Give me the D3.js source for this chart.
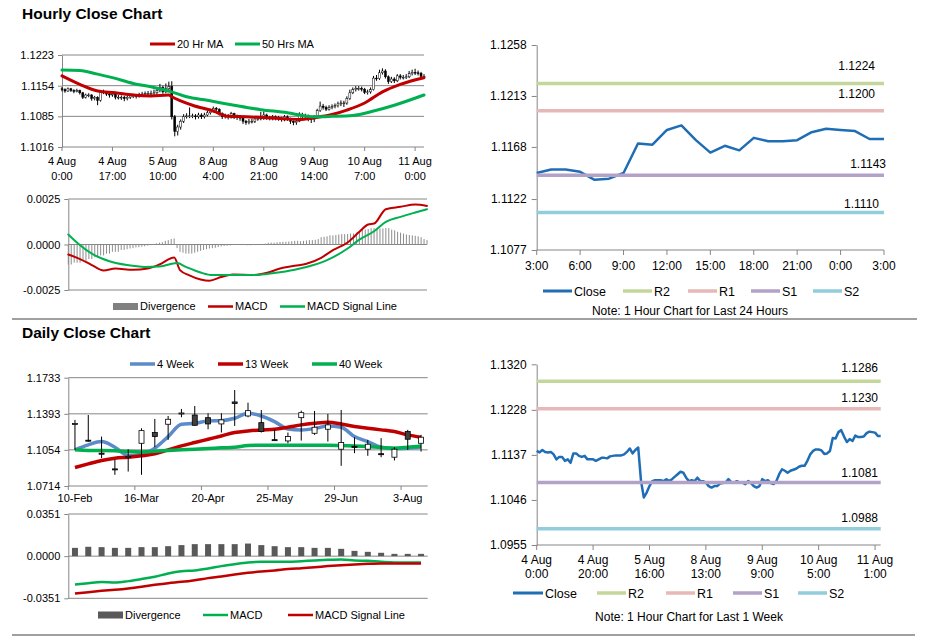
<!DOCTYPE html>
<html><head><meta charset="utf-8">
<script src="https://cdn.jsdelivr.net/npm/d3@7"></script>
<style>
body{margin:0;background:#fff}
svg{display:block}
text{font-family:"Liberation Sans",Arial,sans-serif;fill:#000}
</style>
</head><body>
<svg id="c" width="928" height="638"></svg>
<script>
// ================= DATA =================
// Hourly (last 1 week, 123 hourly bars, 4 Aug 0:00 .. 11 Aug 3:00)
const hourlyTickIdx  = [0,17,34,51,68,85,102,119];
const hourlyTickDay  = ["4 Aug","4 Aug","5 Aug","8 Aug","8 Aug","9 Aug","10 Aug","11 Aug"];
const hourlyTickTime = ["0:00","17:00","10:00","4:00","21:00","14:00","7:00","0:00"];
const weekTickIdx  = [0,20,40,60,80,100,120];
const weekTickDay  = ["4 Aug","4 Aug","5 Aug","8 Aug","9 Aug","10 Aug","11 Aug"];
const weekTickTime = ["0:00","20:00","16:00","13:00","9:00","5:00","1:00"];
const dayTickLabels = ["3:00","6:00","9:00","12:00","15:00","18:00","21:00","0:00","3:00"];

const hourlyClose = [1.1145,1.1142,1.1147,1.1143,1.1142,1.1143,1.1138,1.1128,1.1133,1.1133,
1.1125,1.1128,1.1121,1.1140,1.1140,1.1135,1.1133,1.1135,1.1128,1.1128,
1.1128,1.1125,1.1128,1.1131,1.1131,1.1130,1.1134,1.1135,1.1136,1.1136,
1.1136,1.1138,1.1143,1.1150,1.1140,1.1147,1.1152,1.1084,1.1051,1.1061,
1.1074,1.1084,1.1086,1.1086,1.1086,1.1084,1.1088,1.1084,1.1088,1.1093,
1.1098,1.1103,1.1101,1.1091,1.1084,1.1086,1.1084,1.1091,1.1084,1.1084,
1.1081,1.1074,1.1071,1.1074,1.1074,1.1079,1.1080,1.1081,1.1088,1.1082,
1.1081,1.1084,1.1081,1.1081,1.1078,1.1084,1.1080,1.1074,1.1071,1.1074,
1.1088,1.1084,1.1086,1.1080,1.1078,1.1084,1.1098,1.1108,1.1105,1.1101,
1.1105,1.1107,1.1109,1.1113,1.1115,1.1115,1.1125,1.1138,1.1145,1.1148,
1.1148,1.1146,1.1139,1.1140,1.1145,1.1171,1.1170,1.1183,1.1187,1.1174,
1.1163,1.1169,1.1165,1.1176,1.1173,1.1173,1.1174,1.1181,1.1184,1.1183,
1.1182,1.1175,1.1175];
const hourlyOpen = [1.1147,1.1145,1.1142,1.1147,1.1143,1.1142,1.1143,1.1138,1.1128,1.1133,
1.1133,1.1125,1.1128,1.1121,1.1140,1.1140,1.1135,1.1133,1.1135,1.1128,
1.1128,1.1128,1.1125,1.1128,1.1131,1.1131,1.1130,1.1134,1.1135,1.1136,
1.1136,1.1136,1.1138,1.1143,1.1150,1.1140,1.1147,1.1152,1.1084,1.1051,
1.1061,1.1074,1.1084,1.1086,1.1086,1.1086,1.1084,1.1088,1.1084,1.1088,
1.1093,1.1098,1.1103,1.1101,1.1091,1.1084,1.1086,1.1084,1.1091,1.1084,
1.1084,1.1081,1.1074,1.1071,1.1074,1.1074,1.1079,1.1080,1.1081,1.1088,
1.1082,1.1081,1.1084,1.1081,1.1081,1.1078,1.1084,1.1080,1.1074,1.1071,
1.1074,1.1088,1.1084,1.1086,1.1080,1.1078,1.1084,1.1098,1.1108,1.1105,
1.1101,1.1105,1.1107,1.1109,1.1113,1.1115,1.1115,1.1125,1.1138,1.1145,
1.1148,1.1148,1.1146,1.1139,1.1140,1.1145,1.1171,1.1170,1.1183,1.1187,
1.1174,1.1163,1.1169,1.1165,1.1176,1.1173,1.1173,1.1174,1.1181,1.1184,
1.1183,1.1182,1.1175];
const hourlyHigh = [1.1151,1.1148,1.1150,1.1149,1.1146,1.1147,1.1145,1.1140,1.1136,1.1137,
1.1135,1.1131,1.1130,1.1144,1.1145,1.1142,1.1138,1.1140,1.1137,1.1133,
1.1132,1.1131,1.1132,1.1135,1.1136,1.1134,1.1138,1.1140,1.1141,1.1142,
1.1143,1.1145,1.1150,1.1158,1.1154,1.1159,1.1163,1.1164,1.1088,1.1066,
1.1078,1.1090,1.1092,1.1105,1.1091,1.1090,1.1093,1.1092,1.1093,1.1097,
1.1102,1.1107,1.1106,1.1103,1.1094,1.1091,1.1090,1.1095,1.1093,1.1089,
1.1087,1.1083,1.1077,1.1079,1.1080,1.1083,1.1085,1.1095,1.1096,1.1091,
1.1086,1.1088,1.1087,1.1086,1.1084,1.1088,1.1087,1.1082,1.1076,1.1080,
1.1094,1.1093,1.1091,1.1089,1.1083,1.1088,1.1102,1.1118,1.1113,1.1109,
1.1110,1.1112,1.1114,1.1118,1.1121,1.1120,1.1130,1.1145,1.1150,1.1153,
1.1153,1.1152,1.1149,1.1145,1.1150,1.1176,1.1178,1.1190,1.1193,1.1191,
1.1177,1.1174,1.1173,1.1180,1.1180,1.1178,1.1180,1.1187,1.1190,1.1192,
1.1188,1.1185,1.1180];
const hourlyLow = [1.1141,1.1138,1.1140,1.1140,1.1137,1.1139,1.1134,1.1124,1.1125,1.1128,
1.1120,1.1121,1.1110,1.1118,1.1135,1.1131,1.1127,1.1129,1.1123,1.1123,
1.1122,1.1119,1.1121,1.1124,1.1126,1.1125,1.1127,1.1130,1.1131,1.1131,
1.1130,1.1132,1.1134,1.1139,1.1136,1.1137,1.1142,1.1078,1.1040,1.1042,
1.1055,1.1070,1.1080,1.1081,1.1081,1.1078,1.1080,1.1079,1.1080,1.1085,
1.1089,1.1094,1.1096,1.1087,1.1079,1.1080,1.1078,1.1080,1.1079,1.1077,
1.1075,1.1068,1.1066,1.1067,1.1069,1.1070,1.1075,1.1076,1.1077,1.1077,
1.1076,1.1076,1.1076,1.1075,1.1073,1.1074,1.1075,1.1068,1.1065,1.1066,
1.1072,1.1079,1.1080,1.1074,1.1070,1.1072,1.1080,1.1095,1.1100,1.1097,
1.1098,1.1101,1.1103,1.1105,1.1108,1.1106,1.1111,1.1122,1.1135,1.1141,
1.1143,1.1141,1.1135,1.1134,1.1136,1.1143,1.1165,1.1167,1.1179,1.1170,
1.1158,1.1160,1.1160,1.1162,1.1168,1.1168,1.1169,1.1171,1.1177,1.1178,
1.1177,1.1171,1.1170];

// Moving averages (bar index, value)
const ma20Idx = [0,6,12,18,24,30,36,37,40,44,51,56,62,69,76,80,85,91,96,102,108,114,122];
const ma20Val = [1.1176,1.1157,1.1142,1.1138,1.1133,1.1131,1.1133,1.1129,1.1120,1.1110,1.1097,1.1085,1.1084,1.1082,1.1079,1.1078,1.1082,1.1089,1.1099,1.1115,1.1140,1.1157,1.1172];
const ma50Idx = [0,6,12,17,24,31,37,42,49,58,67,76,82,85,91,98,105,112,122];
const ma50Val = [1.1189,1.1188,1.1180,1.1172,1.1159,1.1150,1.1140,1.1129,1.1121,1.1110,1.1100,1.1093,1.1086,1.1084,1.1085,1.1087,1.1097,1.1110,1.1133];

// Hourly MACD
const macdHIdx = [0,4,8,12,16,22,27,31,36,38,41,45,48,52,56,63,68,72,77,81,86,90,95,99,102,104,108,113,118,122];
const macdHVal = [-0.00055,-0.0008,-0.00113,-0.00143,-0.00132,-0.00139,-0.00132,-0.0011,-0.00071,-0.00141,-0.00168,-0.00192,-0.00199,-0.00179,-0.00165,-0.00168,-0.00154,-0.00132,-0.00117,-0.00106,-0.00073,-0.00031,0.00011,0.0007,0.0011,0.00115,0.00194,0.00207,0.0022,0.00212];
const signalHIdx = [0,4,8,14,20,26,31,37,40,45,49,56,63,70,77,81,88,95,99,104,108,113,118,122];
const signalHVal = [0.00055,-0.00004,-0.0005,-0.00092,-0.00113,-0.00123,-0.00121,-0.00102,-0.00123,-0.00154,-0.00168,-0.00168,-0.00168,-0.00157,-0.00139,-0.00124,-0.00086,-0.00022,0.00027,0.00073,0.00124,0.00152,0.00176,0.00194];
const divergenceH = [-0.0011,-0.0011,-0.0010,-0.0010,-0.0010,-0.0009,-0.0009,-0.0008,-0.0008,-0.0007,
-0.0007,-0.0006,-0.0006,-0.0005,-0.0005,-0.0004,-0.0004,-0.0004,-0.0003,-0.0003,
-0.00026,-0.00022,-0.0002,-0.00016,-0.00015,-0.00012,-0.0001,-0.00006,-0.00003,0.00002,
0.00006,0.0001,0.00012,0.0002,0.00024,0.0003,0.00033,-0.0002,-0.0004,-0.00045,
-0.0005,-0.0005,-0.0005,-0.00045,-0.0004,-0.00035,-0.0003,-0.00026,-0.00022,-0.0002,
-0.00018,-0.00014,-0.0001,-0.00008,-0.00007,-0.00005,-0.00003,-0.00002,0,-0.00002,
-0.00003,-0.00004,-0.00004,-0.00003,-0.00002,0,0.00003,0.00005,0.0001,0.0001,
0.0001,0.00012,0.00014,0.00015,0.00015,0.00016,0.00018,0.0002,0.0002,0.00018,
0.0002,0.00022,0.00024,0.00024,0.00026,0.0003,0.0004,0.00042,0.00045,0.0005,
0.0005,0.00052,0.00055,0.00057,0.00057,0.00058,0.0006,0.0006,0.00065,0.0007,
0.0008,0.00082,0.00085,0.0009,0.0009,0.0009,0.00088,0.00088,0.0009,0.0009,
0.00082,0.00078,0.0007,0.00065,0.0006,0.00055,0.00052,0.0005,0.00048,0.00045,
0.0004,0.0003,0.00024];

// Pivot levels
const levelNames = ["R2","R1","S1","S2"];
const levels24h  = [1.1224,1.1200,1.1143,1.1110];
const levelsWeek = [1.1286,1.1230,1.1081,1.0988];
const last24Start = 98; // 10 Aug 3:00

// Y tick labels
const hourlyYTicks = ["1.1016","1.1085","1.1154","1.1223"];
const macdHYTicks  = ["-0.0025","0.0000","0.0025"];
const day24YTicks  = ["1.1077","1.1122","1.1168","1.1213","1.1258"];
const weekYTicks   = ["1.0955","1.1046","1.1137","1.1228","1.1320"];
const dailyYTicks  = ["1.0714","1.1054","1.1393","1.1733"];
const macdDYTicks  = ["-0.0351","0.0000","0.0351"];

// Daily (weekly bars) 10-Feb .. 10-Aug
const dailyDates = ["10-Feb","17-Feb","24-Feb","2-Mar","9-Mar","16-Mar","23-Mar","30-Mar","6-Apr","13-Apr",
"20-Apr","27-Apr","4-May","11-May","18-May","25-May","1-Jun","8-Jun","15-Jun","22-Jun",
"29-Jun","6-Jul","13-Jul","20-Jul","27-Jul","3-Aug","10-Aug"];
const dailyLabelIdx = [0,5,10,15,20,25];
const dailyOpen  = [1.1298,1.1145,1.1023,1.0875,1.0990,1.1116,1.1217,1.1295,1.1397,1.1382,
1.1357,1.1298,1.1505,1.1373,1.1310,1.1150,1.1138,1.1357,1.1210,1.1248,
1.1060,1.1087,1.1060,1.1018,1.0985,1.1226,1.1116];
const dailyClose = [1.1302,1.1138,1.1013,1.0868,1.0992,1.1235,1.1179,1.1342,1.1401,1.1285,
1.1298,1.1336,1.1490,1.1423,1.1226,1.1145,1.1179,1.1404,1.1267,1.1289,
1.1123,1.1083,1.1107,1.1014,1.1060,1.1154,1.1173];
const dailyHigh  = [1.1336,1.1382,1.1179,1.0960,1.1060,1.1257,1.1345,1.1373,1.1439,1.1467,
1.1398,1.1398,1.1617,1.1498,1.1429,1.1248,1.1217,1.1423,1.1420,1.1392,
1.1429,1.1173,1.1148,1.1164,1.1079,1.1242,1.1195];
const dailyLow   = [1.1054,1.1130,1.0976,1.0819,1.0850,1.0819,1.1079,1.1148,1.1361,1.1280,
1.1248,1.1217,1.1279,1.1361,1.1217,1.1141,1.1116,1.1141,1.1195,1.1132,
1.0904,1.1023,1.0998,1.0985,1.0954,1.1054,1.1038];
const ma4w  = [1.1054,1.1101,1.1132,1.1079,1.1001,1.1013,1.1070,1.1179,1.1295,1.1304,
1.1326,1.1329,1.1351,1.1398,1.1373,1.1320,1.1251,1.1242,1.1254,1.1279,
1.1267,1.1179,1.1132,1.1079,1.1066,1.1070,1.1082];
const ma13w = [1.0888,1.0922,1.0954,1.0976,1.0985,1.0998,1.1016,1.1054,1.1091,1.1123,
1.1154,1.1185,1.1217,1.1232,1.1242,1.1248,1.1267,1.1289,1.1304,1.1314,
1.1298,1.1273,1.1257,1.1242,1.1226,1.1195,1.1173];
const ma40w = [1.1054,1.1048,1.1048,1.1045,1.1038,1.1035,1.1041,1.1048,1.1054,1.1060,
1.1066,1.1073,1.1079,1.1095,1.1098,1.1098,1.1098,1.1098,1.1098,1.1098,
1.1095,1.1091,1.1085,1.1076,1.1070,1.1079,1.1091];
const divergenceD = [0.0069,0.0078,0.0075,0.0069,0.0069,0.0075,0.0075,0.0083,0.0092,0.0100,
0.0100,0.0100,0.0100,0.0105,0.0092,0.0083,0.0075,0.0075,0.0069,0.0069,
0.0061,0.0044,0.0036,0.0028,0.0019,0.0019,0.0019];
const macdD = [-0.0236,-0.0225,-0.0216,-0.0219,-0.0208,-0.0191,-0.0172,-0.0144,-0.0125,-0.0119,
-0.0103,-0.0083,-0.0067,-0.0053,-0.0047,-0.0047,-0.0047,-0.0042,-0.0036,-0.0031,
-0.0028,-0.0036,-0.0039,-0.0047,-0.0053,-0.0053,-0.0053];
const signalD = [-0.0311,-0.0300,-0.0289,-0.0280,-0.0269,-0.0255,-0.0239,-0.0225,-0.0214,-0.0200,
-0.0183,-0.0169,-0.0153,-0.0139,-0.0128,-0.0119,-0.0108,-0.0100,-0.0092,-0.0083,
-0.0075,-0.0069,-0.0064,-0.0061,-0.0061,-0.0061,-0.0061];

// ================= DRAWING =================
const svg = d3.select("#c");
const AX = "#868686";
const RED = "#c00000", GREEN = "#00b050", BLUE4 = "#5b8bc8", CLOSEBLUE = "#1f6db5";
const levelColors = ["#c4d79b","#e6b8b7","#b3a2c7","#92cddc"];

function txt(x, y, s, size, anchor, weight){
  return svg.append("text").attr("x",x).attr("y",y).attr("font-size",size)
    .attr("text-anchor",anchor||"start").attr("font-weight",weight||"normal").text(s);
}
function hline(x0,x1,y,color,w){
  svg.append("line").attr("x1",x0).attr("x2",x1).attr("y1",y).attr("y2",y)
    .attr("stroke",color).attr("stroke-width",w||1);
}
function leftAxis(x0, y, labels, size, tick, pad){
  const vals = labels.map(Number);
  const ax = d3.axisLeft(y).tickValues(vals).tickFormat((d,i)=>labels[i])
    .tickSize(tick).tickSizeOuter(0).tickPadding(pad);
  const g = svg.append("g").attr("transform",`translate(${x0},0)`).call(ax);
  g.select(".domain").attr("stroke",AX);
  g.selectAll(".tick line").attr("stroke",AX);
  g.selectAll(".tick text").attr("font-size",size).attr("font-family",'"Liberation Sans",Arial,sans-serif').attr("fill","#000");
  return vals;
}
function grid(vals, y, x0, x1){ vals.forEach(v=>hline(x0,x1,y(v),AX,1)); }
function legendLine(x, y, color, w, label, size, len){
  svg.append("line").attr("x1",x).attr("x2",x+(len||25)).attr("y1",y).attr("y2",y)
    .attr("stroke",color).attr("stroke-width",w);
  txt(x+(len||25)+2, y+size*0.36, label, size);
}
function legendRect(x, y, color, label, size){
  svg.append("rect").attr("x",x).attr("y",y-3.5).attr("width",25).attr("height",7).attr("fill",color);
  txt(x+27, y+size*0.36, label, size);
}
function pathIdx(xs, ys, x, y, color, w, curve){
  const pts = xs.map((d,i)=>[x(d), y(ys[i])]);
  svg.append("path").attr("d", d3.line().curve(curve||d3.curveMonotoneX)(pts))
    .attr("fill","none").attr("stroke",color).attr("stroke-width",w)
    .attr("stroke-linejoin","round").attr("stroke-linecap","round");
}

// ---- Titles ----
txt(22, 19, "Hourly Close Chart", 15.5, "start", "bold");
txt(22, 338, "Daily Close Chart", 15.5, "start", "bold");

// ---- Separators ----
hline(12, 917, 319, "#808080", 1.5);
hline(12, 915, 635, "#808080", 1.5);

// ================= Panel 1: hourly candles =================
{
  const N = hourlyClose.length;
  const x = d3.scaleLinear().domain([0, N-1]).range([62, 424]);
  const y = d3.scaleLinear().domain([1.1016, 1.1223]).range([147, 55]);
  const vals = hourlyYTicks.map(Number);
  grid(vals.slice(1), y, 62, 424);
  leftAxis(62, y, hourlyYTicks, 11, 4, 4);
  hline(62, 424, 147, AX, 1);
  hourlyTickIdx.forEach((t,i)=>{
    const xx = x(t);
    svg.append("line").attr("x1",xx).attr("x2",xx).attr("y1",147).attr("y2",151).attr("stroke",AX);
    txt(xx, 165, hourlyTickDay[i], 11, "middle");
    txt(xx, 180, hourlyTickTime[i], 11, "middle");
  });
  const g = svg.append("g");
  hourlyClose.forEach((c,i)=>{
    const o = hourlyOpen[i], xx = x(i);
    g.append("line").attr("x1",xx).attr("x2",xx).attr("y1",y(hourlyHigh[i])).attr("y2",y(hourlyLow[i]))
      .attr("stroke","#000").attr("stroke-width",1);
    const top = y(Math.max(o,c)), bot = y(Math.min(o,c));
    g.append("rect").attr("x",xx-1).attr("y",top).attr("width",2).attr("height",Math.max(bot-top,0.8))
      .attr("fill", c>=o ? "#fff" : "#000").attr("stroke","#000").attr("stroke-width",0.5);
  });
  pathIdx(ma20Idx, ma20Val, x, y, RED, 3);
  pathIdx(ma50Idx, ma50Val, x, y, GREEN, 3);
  legendLine(150, 44, RED, 3, "20 Hr MA", 11);
  legendLine(235, 44, GREEN, 3, "50 Hrs MA", 11);
}

// ================= Panel 2: hourly MACD =================
{
  const N = divergenceH.length;
  const x = d3.scaleLinear().domain([0, N-1]).range([68.3, 427]);
  const y = d3.scaleLinear().domain([-0.0025, 0.0025]).range([290, 199]);
  grid([-0.0025, 0, 0.0025], y, 68.3, 427);
  leftAxis(68.3, y, macdHYTicks, 11, 4, 4);
  divergenceH.forEach((d,i)=>{
    svg.append("line").attr("x1",x(i)).attr("x2",x(i)).attr("y1",y(0)).attr("y2",y(d))
      .attr("stroke","#8c8c8c").attr("stroke-width",1);
  });
  pathIdx(macdHIdx, macdHVal, x, y, RED, 2);
  pathIdx(signalHIdx, signalHVal, x, y, GREEN, 2);
  legendRect(113, 306.5, "#808080", "Divergence", 11);
  legendLine(208, 306.5, RED, 2.5, "MACD", 11);
  legendLine(280, 306.5, GREEN, 2.5, "MACD Signal Line", 11);
}

// ================= Panel 3: last 24 hours =================
{
  const data = hourlyClose.slice(last24Start);
  const N = data.length;
  const x = d3.scaleLinear().domain([0, N-1]).range([536.7, 884]);
  const y = d3.scaleLinear().domain([1.1077, 1.1258]).range([250, 45]);
  leftAxis(536.7, y, day24YTicks, 12, 5, 5);
  hline(536.7, 884, 250, AX, 1);
  dayTickLabels.forEach((l,i)=>{
    const xx = x(i*3);
    svg.append("line").attr("x1",xx).attr("x2",xx).attr("y1",250).attr("y2",255).attr("stroke",AX);
    txt(xx, 270, l, 12, "middle");
  });
  svg.append("path").attr("d", d3.line().x((d,i)=>x(i)).y(d=>y(d))(data))
    .attr("fill","none").attr("stroke",CLOSEBLUE).attr("stroke-width",2.5).attr("stroke-linejoin","round");
  const lblEnd = [875, 875, 886, 879], lblGap = [14, 13, 7, 5];
  levels24h.forEach((v,i)=>{
    hline(x(0), x(N-1), y(v), levelColors[i], 3.5);
    txt(lblEnd[i], y(v)-lblGap[i], v.toFixed(4), 12, "end");
  });
  legendLine(543, 291, CLOSEBLUE, 3, "Close", 12.5, 29);
  const lx = [623, 688, 751, 813];
  levelNames.forEach((n,i)=>legendLine(lx[i], 291, levelColors[i], 3.5, n, 12.5, 29));
  txt(690, 315, "Note: 1 Hour Chart for Last 24 Hours", 12, "middle");
}

// ================= Panel 4: daily candles =================
{
  const N = dailyClose.length;
  const xb = d3.scaleBand().domain(d3.range(N)).range([68.3, 427.7]);
  const bw = xb.bandwidth();
  const xc = i => xb(i) + bw/2;
  const y = d3.scaleLinear().domain([1.0714, 1.1733]).range([486, 377.7]);
  const vals = dailyYTicks.map(Number);
  grid(vals.slice(1), y, 68.3, 427.7);
  leftAxis(68.3, y, dailyYTicks, 11, 4, 4);
  hline(68.3, 427.7, 486, AX, 1);
  for (let k=0; k<=N; k+=5) {
    const xx = xb(k) !== undefined ? xb(k) : 427.7;
    svg.append("line").attr("x1",xx).attr("x2",xx).attr("y1",486).attr("y2",490).attr("stroke",AX);
  }
  dailyLabelIdx.forEach(i=>txt(xc(i), 502, dailyDates[i], 11, "middle"));
  const ln = (arr,color,w)=>svg.append("path")
    .attr("d", d3.line().curve(d3.curveMonotoneX).x((d,i)=>xc(i)).y(d=>y(d))(arr))
    .attr("fill","none").attr("stroke",color).attr("stroke-width",w).attr("stroke-linejoin","round");
  ln(ma4w, BLUE4, 3.5);
  ln(ma13w, RED, 3.5);
  ln(ma40w, GREEN, 3.5);
  dailyClose.forEach((c,i)=>{
    const o = dailyOpen[i], xx = xc(i);
    svg.append("line").attr("x1",xx).attr("x2",xx).attr("y1",y(dailyHigh[i])).attr("y2",y(dailyLow[i]))
      .attr("stroke","#000").attr("stroke-width",1);
    const top = y(Math.max(o,c)), bot = y(Math.min(o,c));
    svg.append("rect").attr("x",xx-2.5).attr("y",top).attr("width",5).attr("height",Math.max(bot-top,1))
      .attr("fill", c>=o ? "#fff" : "#404040").attr("stroke","#000").attr("stroke-width",0.8);
  });
  legendLine(130, 364, BLUE4, 3.5, "4 Week", 11);
  legendLine(218, 364, RED, 3.5, "13 Week", 11);
  legendLine(312, 364, GREEN, 3.5, "40 Week", 11);
}

// ================= Panel 5: daily MACD =================
{
  const N = divergenceD.length;
  const xb = d3.scaleBand().domain(d3.range(N)).range([68.3, 427.7]);
  const bw = xb.bandwidth();
  const xc = i => xb(i) + bw/2;
  const y = d3.scaleLinear().domain([-0.0351, 0.0351]).range([598.3, 514]);
  grid([-0.0351, 0, 0.0351], y, 68.3, 427.7);
  leftAxis(68.3, y, macdDYTicks, 11, 4, 4);
  divergenceD.forEach((d,i)=>{
    svg.append("rect").attr("x",xc(i)-3).attr("width",6)
      .attr("y",Math.min(y(d),y(0))).attr("height",Math.abs(y(d)-y(0))).attr("fill","#595959");
  });
  const ln = (arr,color,w)=>svg.append("path")
    .attr("d", d3.line().curve(d3.curveMonotoneX).x((d,i)=>xc(i)).y(d=>y(d))(arr))
    .attr("fill","none").attr("stroke",color).attr("stroke-width",w).attr("stroke-linejoin","round");
  ln(macdD, GREEN, 2.5);
  ln(signalD, RED, 2.5);
  legendRect(98, 615, "#595959", "Divergence", 11);
  legendLine(203, 615, GREEN, 2.5, "MACD", 11);
  legendLine(288, 615, RED, 2.5, "MACD Signal Line", 11);
}

// ================= Panel 6: last 1 week =================
{
  const N = hourlyClose.length;
  const x = d3.scaleLinear().domain([0, N-1]).range([536.7, 880.7]);
  const y = d3.scaleLinear().domain([1.0955, 1.1320]).range([545, 364.3]);
  leftAxis(536.7, y, weekYTicks, 12, 5, 5);
  hline(536.7, 880.7, 545, AX, 1);
  weekTickIdx.forEach((t,i)=>{
    const xx = x(t);
    svg.append("line").attr("x1",xx).attr("x2",xx).attr("y1",545).attr("y2",550).attr("stroke",AX);
    txt(xx, 564, weekTickDay[i], 12, "middle");
    txt(xx, 578, weekTickTime[i], 12, "middle");
  });
  svg.append("path").attr("d", d3.line().x((d,i)=>x(i)).y(d=>y(d))(hourlyClose))
    .attr("fill","none").attr("stroke",CLOSEBLUE).attr("stroke-width",2.5).attr("stroke-linejoin","round");
  const lblGap = [9, 7, 6, 7];
  levelsWeek.forEach((v,i)=>{
    hline(x(0), x(N-1), y(v), levelColors[i], 3.5);
    txt(878, y(v)-lblGap[i], v.toFixed(4), 12, "end");
  });
  legendLine(513, 593, CLOSEBLUE, 3, "Close", 12.5, 30);
  const lx = [597, 666, 733, 798];
  levelNames.forEach((n,i)=>legendLine(lx[i], 593, levelColors[i], 3.5, n, 12.5, 29));
  txt(689, 621, "Note: 1 Hour Chart for Last 1 Week", 12, "middle");
}
</script>
</body></html>
